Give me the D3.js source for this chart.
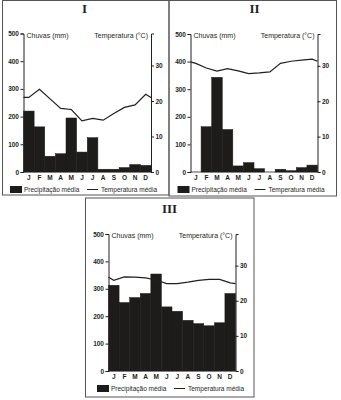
<!DOCTYPE html>
<html>
<head>
<meta charset="utf-8">
<script src="https://cdn.jsdelivr.net/npm/d3@7"></script>
<style>
  body { margin: 0; background: #fff; }
  svg { display: block; }
  text { font-family: "Liberation Sans", Arial, sans-serif; fill: #231f20; }
</style>
</head>
<body>
<div id="plot"></div>
<script>
// monthly data for the three climographs
var months = ["J","F","M","A","M","J","J","A","S","O","N","D"];

var rainI = [220,163,57,66,195,72,124,10,10,16,27,24];
var tempI = [21.0,23.3,20.6,17.9,17.6,14.4,15.1,14.6,16.5,18.2,18.9,21.9];
var tempEdgesI = [21.0, 21.0];

var rainII = [0,164,343,154,22,34,12,0,10,5,16,25];
var tempII = [30.7,29.4,28.5,29.2,28.6,27.8,28.0,28.3,30.7,31.3,31.6,31.9];
var tempEdgesII = [31.1, 31.3];

var rainIII = [313,250,268,283,354,234,218,185,173,165,176,283];
var tempIII = [25.8,26.8,26.7,26.5,25.9,24.9,24.9,25.3,25.8,26.1,26.1,25.1];
var tempEdgesIII = [26.7, 24.9];

var rainTicks = [0,100,200,300,400,500];
var tempTicks = [0,10,20,30];

var w = 341, h = 400;
var ink = "#231f20";

var svg = d3.select("#plot").append("svg")
    .attr("width", w)
    .attr("height", h);

// panel frames
var frames = [
  {x: 2.5, y: 0.5, w: 166.5, h: 194.5},
  {x: 169, y: 0.5, w: 167.5, h: 195.5},
  {x: 85.5, y: 198, w: 168.5, h: 199}
];
svg.selectAll("rect.frame").data(frames).enter().append("rect")
    .attr("class", "frame")
    .attr("x", d => d.x).attr("y", d => d.y)
    .attr("width", d => d.w).attr("height", d => d.h)
    .attr("fill", "none")
    .attr("stroke", "#555")
    .attr("stroke-width", 1);

function climograph(cfg) {
  var g = svg.append("g")
      .attr("transform", `translate(${cfg.left}, ${cfg.top})`);

  var innerW = cfg.width, innerH = cfg.height;

  var x = d3.scaleBand().domain(d3.range(months.length)).range([0, innerW]);
  var yRain = d3.scaleLinear().domain([0, 500]).range([innerH, 0]);
  var yTemp = d3.scaleLinear().domain([0, 39]).range([innerH, 0]);

  // title
  g.append("text")
      .attr("x", cfg.titleX)
      .attr("y", -21)
      .attr("text-anchor", "middle")
      .style("font-family", "'Liberation Serif', 'Times New Roman', serif")
      .style("font-weight", "bold")
      .style("font-size", "13px")
      .text(cfg.title);

  // precipitation bars
  g.selectAll("rect.bar").data(cfg.rain).enter().append("rect")
      .attr("class", "bar")
      .attr("x", (d, i) => x(i))
      .attr("y", d => yRain(d))
      .attr("width", x.bandwidth())
      .attr("height", d => innerH - yRain(d))
      .attr("fill", "#1e1b1b")
      .attr("stroke", "#1e1b1b")
      .attr("stroke-width", 0.5);

  // baseline
  g.append("line")
      .attr("x1", 0).attr("x2", innerW)
      .attr("y1", innerH).attr("y2", innerH)
      .attr("stroke", ink).attr("stroke-width", 0.8);

  // temperature line, running from axis to axis
  var pts = [[0, cfg.edges[0]]]
    .concat(cfg.temp.map((t, i) => [x(i) + x.bandwidth() / 2, t]))
    .concat([[innerW, cfg.edges[1]]]);
  g.append("path")
      .datum(pts)
      .attr("fill", "none")
      .attr("stroke", ink)
      .attr("stroke-width", 1.2)
      .attr("d", d3.line().x(d => d[0]).y(d => yTemp(d[1])));

  // axes
  var left = g.append("g")
      .call(d3.axisLeft(yRain).tickValues(rainTicks).tickSize(3).tickSizeOuter(3));
  var right = g.append("g")
      .attr("transform", `translate(${innerW}, 0)`)
      .call(d3.axisRight(yTemp).tickValues(tempTicks).tickSize(3).tickSizeOuter(3));

  [left, right].forEach(function(ax) {
    ax.select(".domain").attr("stroke", ink).attr("stroke-width", 1);
    ax.selectAll(".tick line").attr("stroke", ink).attr("stroke-width", 1);
    ax.selectAll(".tick text")
        .attr("fill", ink)
        .style("font-family", "'Liberation Sans', Arial, sans-serif")
        .style("font-weight", "bold")
        .style("font-size", "6.5px");
  });
  left.selectAll(".tick text").attr("x", -4.5);
  right.selectAll(".tick text").attr("x", 4.5);

  // month labels
  g.selectAll("text.month").data(months).enter().append("text")
      .attr("class", "month")
      .attr("x", (d, i) => x(i) + x.bandwidth() / 2)
      .attr("y", innerH + 8)
      .attr("text-anchor", "middle")
      .style("font-weight", "bold")
      .style("font-size", "6.5px")
      .text(d => d);

  // axis titles
  g.append("text")
      .attr("x", 3).attr("y", 4)
      .style("font-size", "7px")
      .text("Chuvas (mm)");
  g.append("text")
      .attr("x", innerW - 3).attr("y", 4)
      .attr("text-anchor", "end")
      .style("font-size", "7px")
      .text("Temperatura (°C)");

  // legend
  var ly = innerH + 17;
  g.append("rect")
      .attr("x", cfg.legendX).attr("y", ly - 3)
      .attr("width", 12).attr("height", 7)
      .attr("fill", "#1e1b1b");
  g.append("text")
      .attr("x", cfg.legendX + 14).attr("y", ly + 2.5)
      .style("font-size", "6.5px")
      .text("Precipitação média");
  g.append("line")
      .attr("x1", cfg.legendX + 77).attr("x2", cfg.legendX + 88)
      .attr("y1", ly + 0.5).attr("y2", ly + 0.5)
      .attr("stroke", ink).attr("stroke-width", 1);
  g.append("text")
      .attr("x", cfg.legendX + 91).attr("y", ly + 2.5)
      .style("font-size", "6.5px")
      .text("Temperatura média");
}

climograph({title: "I", rain: rainI, temp: tempI, edges: tempEdgesI,
  left: 23.5, top: 33.5, width: 127.5, height: 138.5, titleX: 61, legendX: -13.5});
climograph({title: "II", rain: rainII, temp: tempII, edges: tempEdgesII,
  left: 190.5, top: 34, width: 127, height: 138, titleX: 64, legendX: -13});
climograph({title: "III", rain: rainIII, temp: tempIII, edges: tempEdgesIII,
  left: 108.5, top: 234, width: 127, height: 137, titleX: 61, legendX: -11.5});
</script>
</body>
</html>
